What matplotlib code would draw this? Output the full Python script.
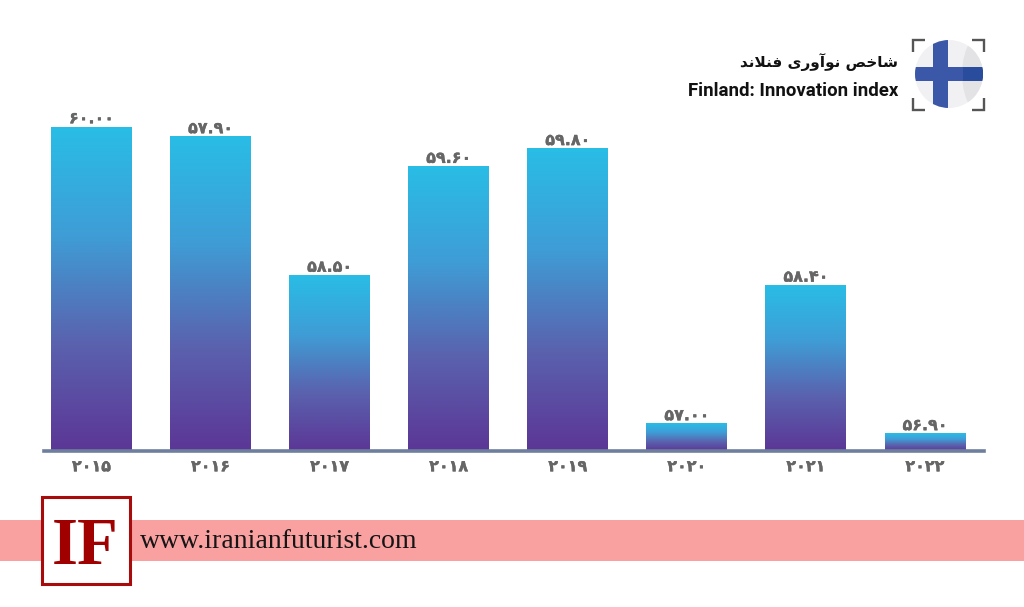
import numpy as np
import matplotlib
matplotlib.use("Agg")
import matplotlib.pyplot as plt
import matplotlib.patheffects as pe
from matplotlib.colors import LinearSegmentedColormap
from matplotlib.patches import Rectangle, Circle, Ellipse

years = ["۲۰۱۵", "۲۰۱۶", "۲۰۱۷", "۲۰۱۸", "۲۰۱۹", "۲۰۲۰", "۲۰۲۱", "۲۰۲۲"]
values = [60.0, 59.9, 58.5, 59.6, 59.78, 57.0, 58.4, 56.9]
value_labels = ["۶۰.۰۰", "۵۷.۹۰", "۵۸.۵۰", "۵۹.۶۰", "۵۹.۸۰", "۵۷.۰۰", "۵۸.۴۰", "۵۶.۹۰"]
# Persian title in shaped presentation forms, logical order (reversed for drawing)
title_fa = "\uFEB7\uFE8E\uFEA7\uFEBA \uFEE7\uFEEE\uFE81\uFEED\uFEAD\uFBFC \uFED3\uFEE8\uFEFC\uFEE7\uFEAA"
title_en = "Finland: Innovation index"
site = "www.iranianfuturist.com"

W, H = 1024, 607
fig = plt.figure(figsize=(W / 100, H / 100), dpi=100, facecolor="white")

# overlay in pixel coordinates for decoration
deco = fig.add_axes([0, 0, 1, 1], zorder=0)
deco.set_xlim(0, W); deco.set_ylim(H, 0); deco.axis("off")

# chart axes
left, right, top, base = 44, 984, 100, 451
ax = fig.add_axes([left / W, 1 - base / H, (right - left) / W, (base - top) / H], zorder=1)
ax.patch.set_alpha(0)
xlim = (-0.399, 7.495)
ax.set_xlim(*xlim)
ax.set_ylim(56.727, 60.273)
bars = ax.bar(range(len(values)), values, width=0.68, color="none")
cmap = LinearSegmentedColormap.from_list("g", ["#5C3696", "#5A62AE", "#3F9DD6", "#29BDE6"])
grad = np.linspace(0, 1, 256)[:, None]
ylim = ax.get_ylim()
for b in bars:
    x0, w, h = b.get_x(), b.get_width(), b.get_height()
    ax.imshow(grad, extent=(x0, x0 + w, ylim[0], h), origin="lower", aspect="auto", cmap=cmap, zorder=2)
ax.set_xlim(*xlim)
ax.set_ylim(*ylim)

for s in ["top", "left", "right"]:
    ax.spines[s].set_visible(False)
ax.spines["bottom"].set_color("#6E7F9E")
ax.spines["bottom"].set_linewidth(2.6)
ax.spines["bottom"].set_zorder(3)
ax.set_yticks([])
ax.set_xticks(range(len(years)))
thick = [pe.withStroke(linewidth=0.25, foreground="#666666")]
ax.set_xticklabels(years, fontsize=11.5, fontweight="bold", color="#666666", family="DejaVu Sans",
                   path_effects=thick)
ax.tick_params(axis="x", length=0, pad=6)
for i, (v, lab) in enumerate(zip(values, value_labels)):
    ax.annotate(lab, (i, v), xytext=(0, 0.5), textcoords="offset points", ha="center", va="bottom",
                fontsize=11.5, fontweight="bold", color="#666666", family="DejaVu Sans",
                path_effects=thick)

# titles
deco.text(898, 62, title_fa[::-1], ha="right", va="center", fontsize=11, fontweight="bold",
          color="#111111", family="DejaVu Sans")
deco.text(898, 91, title_en, ha="right", va="center", fontsize=13.4, fontweight="bold",
          color="#111111", family="Roboto")

# flag badge
cx, cy, r = 949, 74, 34
circ = Circle((cx, cy), r, fc="#F1F1F3", ec="none", zorder=1)
deco.add_patch(circ)
shade = Ellipse((995, cy), 66, 100, fc="#E3E3E6", ec="none", zorder=1.1)
deco.add_patch(shade); shade.set_clip_path(circ)
arm_v = Rectangle((933, 30), 15, 90, fc="#3B58A8", ec="none", zorder=2)
arm_h = Rectangle((900, 67), 100, 14, fc="#3B58A8", ec="none", zorder=2)
arm_d = Rectangle((963, 67), 30, 14, fc="#2A4C9C", ec="none", zorder=2.1)
for p in (arm_v, arm_h, arm_d):
    deco.add_patch(p); p.set_clip_path(circ)
for xs, ys in [((913, 913, 925), (52, 40, 40)), ((972, 984, 984), (40, 40, 52)),
               ((913, 913, 925), (98, 110, 110)), ((972, 984, 984), (110, 110, 98))]:
    deco.plot(xs, ys, color="#555555", lw=1.7, solid_capstyle="butt", solid_joinstyle="miter")

# footer
deco.add_patch(Rectangle((0, 520), W, 41, fc="#F9A0A0", ec="none", zorder=1))
deco.add_patch(Rectangle((41.5, 496.5), 88, 87, fc="white", ec="#A80B0B", lw=2.2, zorder=2))
deco.text(85.5, 540, "IF", ha="center", va="center_baseline", fontsize=48, fontweight="bold", color="#A00000",
          family="Liberation Serif", zorder=3)
deco.text(140, 541, site, ha="left", va="center", fontsize=20, color="#151515",
          family="Liberation Serif", zorder=3)

fig.savefig("out.png", dpi=100)
